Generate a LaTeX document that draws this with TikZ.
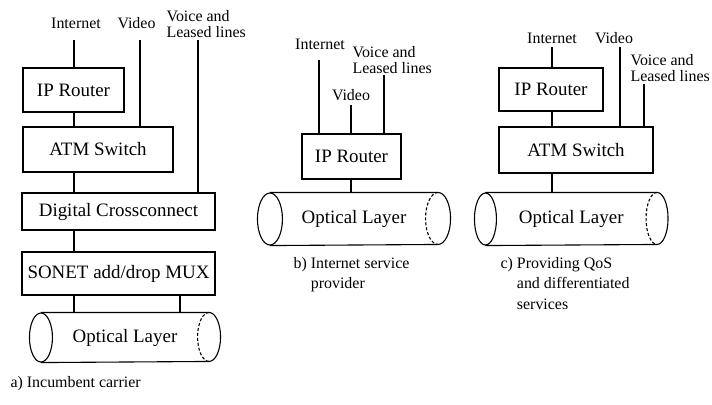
\documentclass[tikz,border=0pt]{standalone}
\usepackage{fontspec}
\setmainfont{Liberation Serif}
% Optical-layer tube: #1 body node, #2 end x radius, #3 end y radius (bp)
\newcommand\drawtube[3]{%
  \draw (#1.north west) -- (#1.north east)
        arc[start angle=90, end angle=-90, x radius=#2bp, y radius=#3bp]
        -- (#1.south west);
  \draw (#1.west) ellipse[x radius=#2bp, y radius=#3bp];
  \draw[hidden] (#1.north east)
        arc[start angle=90, end angle=270, x radius=#2bp, y radius=#3bp];
}
\begin{document}
\begin{tikzpicture}[x=1bp, y=-1bp, line width=1.1bp,
  layerbox/.style={draw, inner sep=0pt, font=\fontsize{19}{22}\selectfont},
  tubebody/.style={inner sep=0pt, font=\fontsize{19}{22}\selectfont},
  feed/.style={inner sep=0pt, font=\fontsize{16}{17}\selectfont},
  caption/.style={inner sep=0pt, anchor=base west, font=\fontsize{16}{21}\selectfont},
  hidden/.style={dash pattern=on 3bp off 2bp}]
\useasboundingbox (0,0) rectangle (712,404);

% ---------- a) Incumbent carrier ----------
\node[layerbox, minimum width=101bp, minimum height=44bp] (ipA)  at (73.5,90)    {IP Router};
\node[layerbox, minimum width=150bp, minimum height=45bp] (atmA) at (98,149.5)   {ATM Switch};
\node[layerbox, minimum width=193bp, minimum height=37bp] (digA) at (118.5,211.5) {Digital Crossconnect};
\node[layerbox, minimum width=193bp, minimum height=43bp] (sonA) at (118.5,273.5) {SONET add/drop MUX};
\node[tubebody, minimum width=167bp, minimum height=49bp] (optA) at (125,337.5)  {Optical Layer};
\drawtube{optA}{11.5}{24.5}

\node[feed, anchor=base] (lInA)  at (76,28)    {Internet};
\node[feed, anchor=base] (lVidA) at (136.5,28) {Video};
\node[feed, anchor=base west] (lVoiA) at (166,21)
  {\begin{tabular}[t]{@{}l@{}}Voice and\\Leased lines\end{tabular}};

\coordinate (inA)  at (74,40);
\coordinate (vidA) at (140,40);
\coordinate (voiA) at (198,40);
\draw (inA) -- (ipA.north -| inA);
\draw (ipA.south -| inA) -- (atmA.north -| inA);
\draw (atmA.south -| inA) -- (digA.north -| inA);
\draw (digA.south -| inA) -- (sonA.north -| inA);
\draw (vidA) -- (atmA.north -| vidA);
\draw (voiA) -- (digA.north -| voiA);
\draw (sonA.south -| inA) -- (optA.north -| inA);
\draw ([xshift=61.5bp]sonA.south) coordinate (dropA) -- (optA.north -| dropA);

\node[caption] (capA) at (10,387) {a) Incumbent carrier};

% ---------- b) Internet service provider ----------
\node[layerbox, minimum width=99bp, minimum height=45bp] (ipB) at (351.5,156.5) {IP Router};
\node[tubebody, minimum width=167bp, minimum height=52bp] (optB) at (354,219) {Optical Layer};
\drawtube{optB}{12.5}{26}

\node[feed, anchor=base] (lInB)  at (320,49)  {Internet};
\node[feed, anchor=base] (lVidB) at (351,100) {Video};
\node[feed, anchor=base west] (lVoiB) at (352,57)
  {\begin{tabular}[t]{@{}l@{}}Voice and\\Leased lines\end{tabular}};

\coordinate (inB)  at (319,60);
\coordinate (vidB) at (351,105);
\coordinate (voiB) at (384,75);
\draw (inB)  -- (ipB.north -| inB);
\draw (vidB) -- (ipB.north -| vidB);
\draw (voiB) -- (ipB.north -| voiB);
\draw (ipB.south -| vidB) -- (optB.north -| vidB);

\node[caption] (capB) at (293,268)
  {b) \begin{tabular}[t]{@{}l@{}}Internet service\\provider\end{tabular}};

% ---------- c) Providing QoS and differentiated services ----------
\node[layerbox, minimum width=104bp, minimum height=43bp] (ipC)  at (551,89.5) {IP Router};
\node[layerbox, minimum width=154bp, minimum height=46bp] (atmC) at (576,150)  {ATM Switch};
\node[tubebody, minimum width=170.5bp, minimum height=52bp] (optC) at (571.25,219) {Optical Layer};
\drawtube{optC}{11}{26}

\node[feed, anchor=base] (lInC)  at (552,43) {Internet};
\node[feed, anchor=base] (lVidC) at (614,43) {Video};
\node[feed, anchor=base west] (lVoiC) at (630,65)
  {\begin{tabular}[t]{@{}l@{}}Voice and\\Leased lines\end{tabular}};

\coordinate (inC)  at (552,47);
\coordinate (vidC) at (620,47);
\coordinate (voiC) at (644,84);
\draw (inC) -- (ipC.north -| inC);
\draw (ipC.south -| inC) -- (atmC.north -| inC);
\draw (vidC) -- (atmC.north -| vidC);
\draw (voiC) -- (atmC.north -| voiC);
\draw (atmC.south -| inC) -- (optC.north -| inC);

\node[caption] (capC) at (500,268)
  {c) \begin{tabular}[t]{@{}l@{}}Providing QoS\\and differentiated\\services\end{tabular}};
\end{tikzpicture}
\end{document}
